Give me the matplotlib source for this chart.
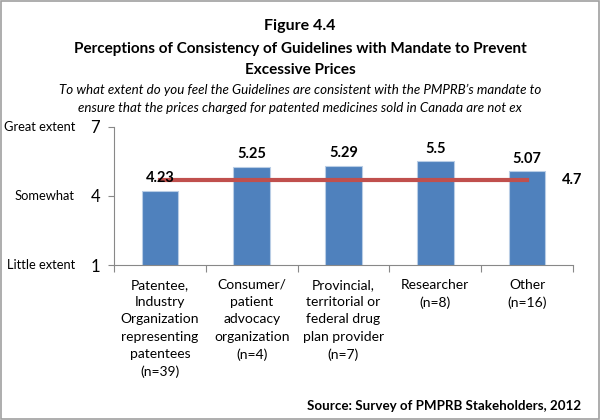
import matplotlib
matplotlib.use("Agg")
import matplotlib.pyplot as plt
from matplotlib.patches import Rectangle

plt.rcParams['font.family'] = ['Lato', 'DejaVu Sans']

categories = ["Patentee,\nIndustry\nOrganization\nrepresenting\npatentees\n(n=39)",
              "Consumer/\npatient\nadvocacy\norganization\n(n=4)",
              "Provincial,\nterritorial or\nfederal drug\nplan provider\n(n=7)",
              "Researcher\n(n=8)",
              "Other\n(n=16)"]
values = [4.23, 5.25, 5.29, 5.5, 5.07]
labels = ["4.23", "5.25", "5.29", "5.5", "5.07"]
average = 4.7
y_ticks = [1, 4, 7]
y_names = ["Little extent", "Somewhat", "Great extent"]

fig = plt.figure(figsize=(6, 4.2), dpi=100)
fig.patches.append(Rectangle((0.002, 0.002), 0.996, 0.996, transform=fig.transFigure,
                             fill=False, edgecolor='#a0a0a0', linewidth=1.2))
ax = fig.add_axes([0.19, 0.369, 0.765, 0.329])

x = range(len(values))
ax.bar(x, values, width=0.4, bottom=0, color='#4F81BD', edgecolor='#b9cde5', linewidth=0.8, zorder=2)
ax.plot([0, len(values) - 1], [average, average], color='#C0504D', linewidth=3, zorder=3)
for i, v in enumerate(values):
    ax.text(i, v + 0.25, labels[i], ha='center', va='bottom', fontsize=10.5, fontweight='bold', zorder=4)
ax.text(len(values) - 1 + 0.38, average, str(average), ha='left', va='center', fontsize=10.5, fontweight='bold')

ax.set_ylim(1, 7)
ax.set_xlim(-0.5, len(values) - 0.5)
ax.set_yticks(y_ticks)
ax.set_yticklabels([str(t) for t in y_ticks], fontsize=12)
ax.set_xticks([i + 0.5 for i in range(-1, len(values))])
ax.set_xticklabels([])
ax.set_xticks(list(x), minor=True)
ax.set_xticklabels(categories, minor=True, fontsize=10, linespacing=1.52, va='top')
ax.tick_params(axis='x', which='minor', length=0, pad=10)
ax.tick_params(axis='x', which='major', length=5, color='#888888', direction='out')
ax.tick_params(axis='y', length=4, color='#888888', direction='out', pad=6)
for s in ['top', 'right']:
    ax.spines[s].set_visible(False)
for s in ['left', 'bottom']:
    ax.spines[s].set_color('#888888')

for t, name in zip(y_ticks, y_names):
    ax.text(-0.085, t, name, transform=ax.get_yaxis_transform(), ha='right', va='center', fontsize=9.3)

fig.text(0.5, 0.938, "Figure 4.4", ha='center', va='center', fontsize=11.5, fontweight='bold')
fig.text(0.5, 0.883, "Perceptions of Consistency of Guidelines with Mandate to Prevent", ha='center', va='center', fontsize=11, fontweight='bold')
fig.text(0.5, 0.833, "Excessive Prices", ha='center', va='center', fontsize=11, fontweight='bold')
fig.text(0.5, 0.785, "To what extent do you feel the Guidelines are consistent with the PMPRB\u2019s mandate to", ha='center', va='center', fontsize=9.6, style='italic')
fig.text(0.5, 0.742, "ensure that the prices charged for patented medicines sold in Canada are not ex", ha='center', va='center', fontsize=9.6, style='italic')
fig.text(0.968, 0.033, "Source: Survey of PMPRB Stakeholders, 2012", ha='right', va='center', fontsize=9.6, fontweight='bold')

fig.savefig("out.png", dpi=100)
